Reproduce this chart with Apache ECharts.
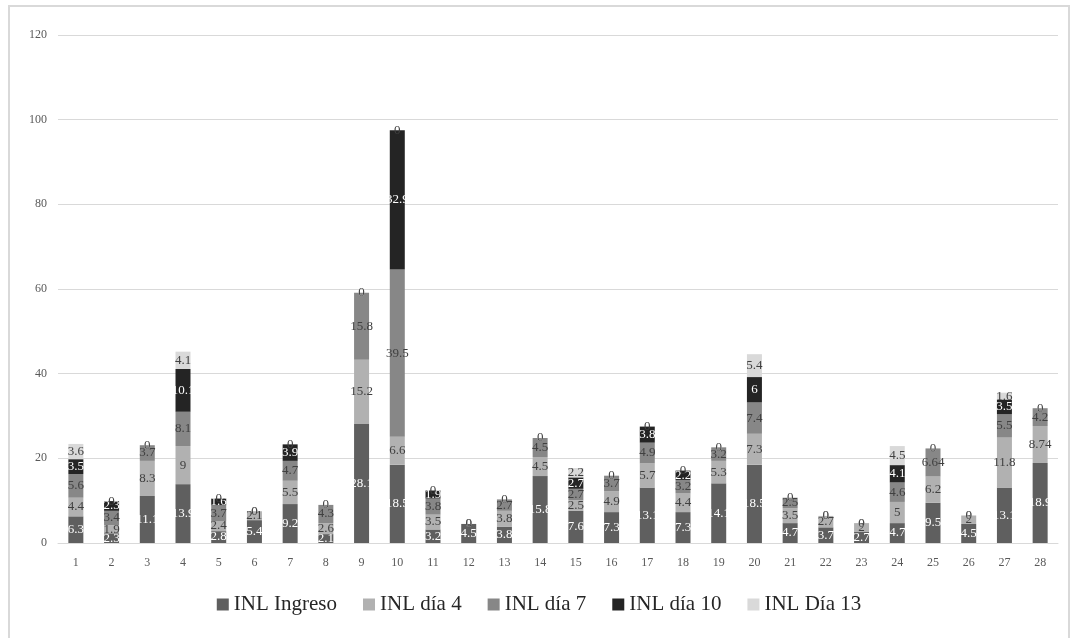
<!DOCTYPE html>
<html>
<head>
<meta charset="utf-8">
<script src="https://cdn.jsdelivr.net/npm/echarts@6/dist/echarts.min.js"></script>
<style>
  html, body { margin: 0; padding: 0; background: #fff; }
  #frame { position: absolute; left: 8px; top: 5px; width: 1062px; height: 640px; border: 2px solid #d9d9d9; box-sizing: border-box; }
  #chart { position: absolute; left: 0; top: 0; width: 1078px; height: 638px; }
</style>
</head>
<body>
<div id="frame"></div>
<div id="chart"></div>
<script>
const categories = ["1","2","3","4","5","6","7","8","9","10","11","12","13","14","15","16","17","18","19","20","21","22","23","24","25","26","27","28"];

const inlIngreso = [6.3, 2.3, 11.1, 13.9, 2.8, 5.4, 9.2, 2.1, 28.1, 18.5, 3.2, 4.5, 3.8, 15.8, 7.6, 7.3, 13.1, 7.3, 14.1, 18.5, 4.7, 3.7, 2.7, 4.7, 9.5, 4.5, 13.1, 18.9];
const inlDia4   = [4.4, 1.9, 8.3, 9, 2.4, 2.1, 5.5, 2.6, 15.2, 6.6, 3.5, 0, 3.8, 4.5, 2.5, 4.9, 5.7, 4.4, 5.3, 7.3, 3.5, 2.7, 2, 5, 6.2, 2, 11.8, 8.74];
const inlDia7   = [5.6, 3.4, 3.7, 8.1, 3.7, 0, 4.7, 4.3, 15.8, 39.5, 3.8, 0, 2.7, 4.5, 2.7, 3.7, 4.9, 3.2, 3.2, 7.4, 2.5, 0, 0, 4.6, 6.64, 0, 5.5, 4.2];
const inlDia10  = [3.5, 2.3, 0, 10.1, 1.6, 0, 3.9, 0, 0, 32.9, 1.9, 0, 0, 0, 2.7, 0, 3.8, 2.2, 0, 6, 0, 0, 0, 4.1, 0, 0, 3.5, 0];
const inlDia13  = [3.6, 0, 0, 4.1, 0, 0, 0, 0, 0, 0, 0, 0, 0, 0, 2.2, 0, 0, 0, 0, 5.4, 0, 0, 0, 4.5, 0, 0, 1.6, 0];

const yTicks = [0, 20, 40, 60, 80, 100, 120];

const font = "'Liberation Serif', 'DejaVu Serif', serif";

function makeSeries(name, data, color, labelColor) {
  return {
    name: name,
    type: "bar",
    stack: "total",
    data: data,
    barWidth: "42%",
    itemStyle: { color: color },
    label: {
      show: true,
      position: "inside",
      color: labelColor,
      fontFamily: font,
      fontSize: 13,
    },
  };
}

const chart = echarts.init(document.getElementById("chart"));
const option = {
  animation: false,
  textStyle: { fontFamily: font },
  grid: { left: 58, right: 20, top: 35, bottom: 95 },
  legend: {
    bottom: 18,
    left: "center",
    itemWidth: 12,
    itemHeight: 12,
    itemGap: 26,
    icon: "rect",
    textStyle: { fontFamily: font, fontSize: 21, color: "#262626" },
  },
  xAxis: {
    type: "category",
    data: categories,
    axisLine: { lineStyle: { color: "#d9d9d9", width: 1 } },
    axisTick: { show: false },
    axisLabel: { color: "#595959", fontFamily: font, fontSize: 12, margin: 14 },
  },
  yAxis: {
    type: "value",
    min: yTicks[0],
    max: yTicks[yTicks.length - 1],
    interval: 20,
    axisLine: { show: false },
    axisTick: { show: false },
    splitLine: { lineStyle: { color: "#d9d9d9", width: 1 } },
    axisLabel: { color: "#595959", fontFamily: font, fontSize: 12, margin: 11 },
  },
  series: [
    makeSeries("INL Ingreso", inlIngreso, "#5f5f5f", "#ffffff"),
    makeSeries("INL día 4", inlDia4, "#b1b1b1", "#404040"),
    makeSeries("INL día 7", inlDia7, "#878787", "#404040"),
    makeSeries("INL día 10", inlDia10, "#242424", "#ffffff"),
    makeSeries("INL Día 13", inlDia13, "#d9d9d9", "#404040"),
  ],
};
chart.setOption(option);
</script>
</body>
</html>
